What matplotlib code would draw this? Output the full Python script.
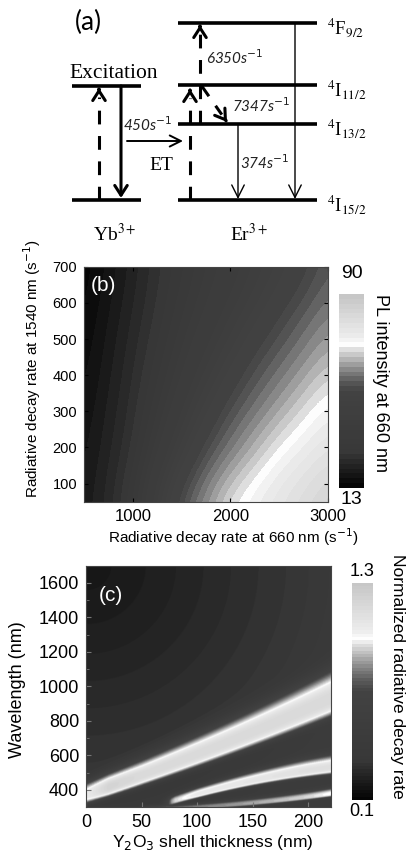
import numpy as np
import matplotlib
matplotlib.use("Agg")
import matplotlib.pyplot as plt
from matplotlib.colors import LinearSegmentedColormap

plt.rcParams['font.family'] = ['Liberation Sans', 'DejaVu Sans']

# ---------------- (a) energy-level scheme (schematic heights) ----------------
yb_levels = [0, 114]                       # 2F7/2, 2F5/2
er_levels = [0, 76, 115, 177]              # 4I15/2, 4I13/2, 4I11/2, 4F9/2
er_names = [r'$^4$I$_{15/2}$', r'$^4$I$_{13/2}$', r'$^4$I$_{11/2}$', r'$^4$F$_{9/2}$']
rate_et = 450          # s^-1, Yb -> Er energy transfer
rate_up = 6350         # s^-1, 4I13/2 -> 4F9/2 upconversion
rate_nr = 7347         # s^-1, 4I11/2 -> 4I13/2 relaxation
rate_ir = 374          # s^-1, 4I13/2 -> 4I15/2 emission

# ---------------- (b) PL intensity at 660 nm ----------------
rate_660 = [500, 750, 1000, 1250, 1500, 1750, 2000, 2250, 2500, 2750, 3000]
rate_1540 = [50, 180, 310, 440, 570, 700]
pl_660 = [
    [19.2, 23.5, 29.9, 43.5, 54.4, 61.7, 68.9, 73.2, 76.8, 80.3, 83.8],
    [18.0, 22.3, 26.6, 35.9, 45.6, 53.7, 59.4, 65.0, 70.5, 74.0, 77.7],
    [16.9, 21.1, 25.3, 31.6, 39.3, 46.8, 53.3, 57.8, 62.4, 67.1, 71.5],
    [15.7, 19.9, 24.1, 28.9, 34.9, 40.9, 46.8, 52.4, 56.4, 60.4, 64.6],
    [14.5, 18.7, 22.8, 26.9, 31.8, 36.6, 41.4, 46.2, 51.0, 55.1, 59.2],
    [13.5, 17.2, 21.5, 25.7, 29.7, 33.7, 37.7, 41.7, 45.8, 49.8, 54.6],
]

# ---------------- (c) normalized radiative decay rate ----------------
# background level vs. distance from the thin-shell / long-wavelength corner
bg_dist = [0.0, 0.3, 0.6, 0.9, 1.2, 2.0]
bg_rate = [0.18, 0.22, 0.27, 0.32, 0.45, 0.50]
# resonance branches: shell thickness, centre wavelength, half widths
# (long- and short-wavelength side) and peak rate
mode1_t = [0, 20, 50, 100, 150, 200, 220]
mode1_wl = [360, 420, 508, 612, 722, 872, 945]
mode1_up = [70, 80, 92, 108, 125, 145, 155]
mode1_dn = [55, 60, 68, 78, 90, 105, 112]
mode1_pk = [1.05, 1.20, 1.16, 1.16, 1.16, 1.16, 1.16]
mode2_t = [65, 80, 100, 150, 200, 220]
mode2_wl = [305, 338, 378, 452, 512, 534]
mode2_up = [28, 34, 40, 52, 62, 66]
mode2_dn = [18, 22, 27, 34, 40, 42]
mode2_pk = [0.55, 0.95, 1.05, 1.08, 1.12, 1.12]
mode3_t = [45, 100, 150, 200, 220]
mode3_wl = [285, 300, 322, 358, 378]
mode3_up = [20, 22, 26, 30, 32]
mode3_dn = [12, 14, 16, 18, 20]
mode3_pk = [0.75, 0.82, 0.88, 0.95, 1.00]

# gray map with a bright band near three quarters of the range
cmap_pos = [0.0, 0.18, 0.50, 0.55, 0.62, 0.68, 0.72, 0.745, 0.78, 1.0]
cmap_gray = [0.02, 0.22, 0.26, 0.35, 0.55, 0.75, 0.88, 1.0, 0.93, 0.78]
cmap_stops = list(zip(cmap_pos, [(g, g, g) for g in cmap_gray]))
cmap_b = LinearSegmentedColormap.from_list('pl_gray', cmap_stops, N=40)
cmap_c = LinearSegmentedColormap.from_list('rate_gray', cmap_stops, N=64)

W, H = 408, 857
fig = plt.figure(figsize=(W / 100, H / 100), dpi=100)


def fx(px):
    return px / W


def fy(py):
    return 1 - py / H


# ===================== (a) =====================
ax_a = fig.add_axes([0, fy(245), 1, 245 / H])
ax_a.set_xlim(0, W)
ax_a.set_ylim(-45, 200)
ax_a.axis('off')

yb_span = (72, 141)
er_span = (178, 317)
for e in yb_levels:
    ax_a.plot(yb_span, [e, e], color='k', lw=2.6, solid_capstyle='butt')
for e in er_levels:
    ax_a.plot(er_span, [e, e], color='k', lw=2.6, solid_capstyle='butt')


def arrow(x0, y0, x1, y1, lw, dashed=False, hl=0.7, hw=0.45):
    style = '->,head_length=%g,head_width=%g' % (hl, hw)
    if dashed:
        v = np.array([x1 - x0, y1 - y0], float)
        v /= np.hypot(*v)
        xe, ye = x1 - 9 * v[0], y1 - 9 * v[1]
        ax_a.plot([x0, xe], [y0, ye], color='k', lw=lw,
                  linestyle=(0, (4.5, 3.8)), solid_capstyle='butt')
        ax_a.annotate('', xy=(x1, y1), xytext=(x1 - 1.5 * v[0], y1 - 1.5 * v[1]),
                      arrowprops=dict(arrowstyle=style, lw=lw, color='k',
                                      shrinkA=0, shrinkB=0))
    else:
        ax_a.annotate('', xy=(x1, y1), xytext=(x0, y0),
                      arrowprops=dict(arrowstyle=style, lw=lw, color='k',
                                      shrinkA=0, shrinkB=0))


# Yb3+: absorption and emission
arrow(99, yb_levels[0], 99, yb_levels[1] - 2, 2.2, dashed=True)
arrow(121, yb_levels[1], 121, yb_levels[0] + 2, 2.2)
# energy transfer
arrow(127, 59, 183, 59, 1.4, hl=0.8, hw=0.4)
# Er3+: upconversion pumping
arrow(190, er_levels[0], 190, er_levels[2] - 4, 2.2, dashed=True)
arrow(200, er_levels[1], 200, er_levels[3] - 2, 2.2, dashed=True)
arrow(201, er_levels[2], 227, er_levels[1] + 2, 2.2, dashed=True)
# Er3+: radiative decays
arrow(238, er_levels[1], 238, er_levels[0] + 1, 1.0, hl=0.9, hw=0.45)
arrow(295, er_levels[3], 295, er_levels[0] + 1, 1.0, hl=0.9, hw=0.45)

serif = ['Liberation Serif', 'DejaVu Serif']
ax_a.text(88, 178, '(a)', fontsize=19, family=['Lato', 'DejaVu Sans'],
          ha='center', va='center')
ax_a.text(114, 127, 'Excitation', fontsize=15.5, family=serif,
          ha='center', va='center')
ax_a.text(161, 34, 'ET', fontsize=14, family=serif, ha='center', va='center')
rate_kw = dict(fontsize=11, family=['Lato', 'DejaVu Sans'], style='italic',
               color='#222222', va='center')
ax_a.text(148, 75, '%ds$^{-1}$' % rate_et, ha='center', **rate_kw)
ax_a.text(206, 142, '%ds$^{-1}$' % rate_up, ha='left', **rate_kw)
ax_a.text(232, 94, '%ds$^{-1}$' % rate_nr, ha='left', **rate_kw)
ax_a.text(240, 37, '%ds$^{-1}$' % rate_ir, ha='left', **rate_kw)
for e, name in zip(er_levels, er_names):
    ax_a.text(327, e - 5, name, fontsize=13.5, family=serif,
              math_fontfamily='stix', ha='left', va='center')
ax_a.text(115, -34, r'Yb$^{3+}$', fontsize=14, family=serif,
          math_fontfamily='stix', ha='center', va='center')
ax_a.text(249, -34, r'Er$^{3+}$', fontsize=14, family=serif,
          math_fontfamily='stix', ha='center', va='center')

# ===================== (b) =====================
ax_b = fig.add_axes([fx(84), fy(501.7), 244 / W, 235 / H])
dx = (rate_660[1] - rate_660[0]) / 2
dy = (rate_1540[1] - rate_1540[0]) / 2
im_b = ax_b.imshow(np.array(pl_660), origin='lower', aspect='auto', cmap=cmap_b,
                   vmin=13, vmax=90, interpolation='bicubic',
                   interpolation_stage='data',
                   extent=[rate_660[0] - dx, rate_660[-1] + dx,
                           rate_1540[0] - dy, rate_1540[-1] + dy])
ax_b.set_xlim(500, 3000)
ax_b.set_ylim(50, 700)
ax_b.set_xticks([1000, 2000, 3000])
ax_b.set_yticks([100, 200, 300, 400, 500, 600, 700])
ax_b.tick_params(axis='x', labelsize=12, direction='in', length=3,
                 top=True, pad=5)
ax_b.tick_params(axis='y', labelsize=10.5, direction='in', length=3,
                 right=True, pad=5)
for s in ax_b.spines.values():
    s.set_color('#444444')
    s.set_linewidth(0.8)
ax_b.text(0.08, 0.92, '(b)', transform=ax_b.transAxes, color='white',
          fontsize=15, ha='center', va='center')
fig.text(fx(32), fy(368), r'Radiative decay rate at 1540 nm (s$^{-1}$)',
         rotation=90, fontsize=11, ha='center', va='center')
fig.text(fx(233), fy(537), r'Radiative decay rate at 660 nm (s$^{-1}$)',
         fontsize=11, ha='center', va='center')

cax_b = fig.add_axes([fx(339), fy(488), 25 / W, 194 / H])
cb_b = fig.colorbar(im_b, cax=cax_b, ticks=[])
cb_b.outline.set_visible(False)
fig.text(fx(351.5), fy(273.5), '90', fontsize=14, ha='center', va='center')
fig.text(fx(351.5), fy(499), '13', fontsize=14, ha='center', va='center')
fig.text(fx(381), fy(383), 'PL intensity at 660 nm', rotation=270,
         fontsize=13, ha='center', va='center')

# ===================== (c) =====================
thick = np.linspace(0, 220, 441)
wl = np.linspace(300, 1700, 701)
T, L = np.meshgrid(thick, wl)
dist = np.hypot(T / 220, (1700 - L) / 1400)
rate = np.interp(dist, bg_dist, bg_rate)
for mt, mw, mu, md, mp in [
        (mode1_t, mode1_wl, mode1_up, mode1_dn, mode1_pk),
        (mode2_t, mode2_wl, mode2_up, mode2_dn, mode2_pk),
        (mode3_t, mode3_wl, mode3_up, mode3_dn, mode3_pk)]:
    inside = (T >= mt[0]) & (T <= mt[-1])
    centre = np.polyval(np.polyfit(mt, mw, 2), T)
    up = np.polyval(np.polyfit(mt, mu, 1), T)
    dn = np.polyval(np.polyfit(mt, md, 1), T)
    peak = np.interp(T, mt, mp)
    d = L - centre
    prof = np.where(d > 0, np.exp(-np.abs(d / up) ** 2.5),
                    np.exp(-np.abs(d / dn) ** 4))
    ramp = np.clip((T - mt[0]) / 12.0, 0, 1) if mt[0] > 0 else 1.0
    band = rate + (peak - rate) * prof * ramp
    rate = np.where(inside, np.maximum(rate, band), rate)

ax_c = fig.add_axes([fx(86), fy(807), 244.5 / W, 241.3 / H])
im_c = ax_c.imshow(rate, origin='lower', aspect='auto', cmap=cmap_c,
                   vmin=0.1, vmax=1.3, interpolation='bilinear',
                   extent=[0, 220, 300, 1700])
ax_c.set_xlim(0, 220)
ax_c.set_ylim(300, 1700)
ax_c.set_xticks([0, 50, 100, 150, 200])
ax_c.set_yticks([400, 600, 800, 1000, 1200, 1400, 1600])
ax_c.set_yticks(np.arange(300, 1701, 100), minor=True)
ax_c.tick_params(axis='both', which='both', direction='in', labelsize=13,
                 color='#777777', pad=5)
ax_c.tick_params(which='major', length=3.5)
ax_c.tick_params(which='minor', length=2)
for s in ax_c.spines.values():
    s.set_color('#444444')
    s.set_linewidth(0.8)
ax_c.text(0.10, 0.875, '(c)', transform=ax_c.transAxes, color='white',
          fontsize=15, ha='center', va='center')
fig.text(fx(18), fy(690), 'Wavelength (nm)', rotation=90, fontsize=13,
         ha='center', va='center')
fig.text(fx(213), fy(843), r'Y$_2$O$_3$ shell thickness (nm)', fontsize=12.5,
         ha='center', va='center')

cax_c = fig.add_axes([fx(351.7), fy(800), 21 / W, 217.3 / H])
cb_c = fig.colorbar(im_c, cax=cax_c, ticks=[])
cb_c.outline.set_visible(False)
fig.text(fx(362), fy(571), '1.3', fontsize=13, ha='center', va='center')
fig.text(fx(362), fy(812), '0.1', fontsize=13, ha='center', va='center')
fig.text(fx(397), fy(676), 'Normalized radiative decay rate', rotation=270,
         fontsize=12.5, ha='center', va='center')

fig.savefig('out.png', dpi=100)
